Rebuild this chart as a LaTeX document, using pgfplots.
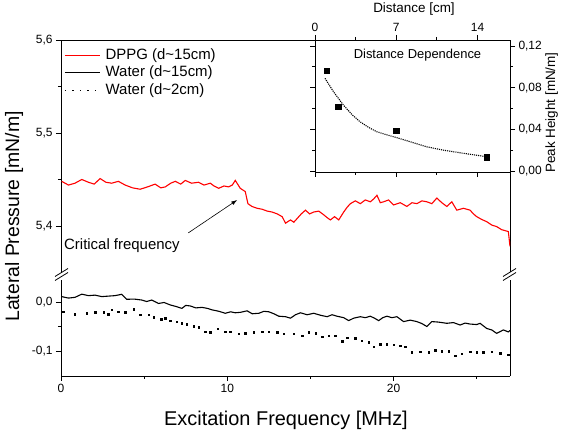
\documentclass[border=0pt]{standalone}
\usepackage{pgfplots}
\pgfplotsset{compat=1.18}
\usepackage{fontspec}
\setmainfont{Liberation Sans}
\usetikzlibrary{arrows.meta}
\pgfplotsset{mystyle/.style={
  scale only axis,
  axis line style={-, line width=0.9pt},
  tick style={line width=0.8pt, black},
  tick align=outside,
  major tick length=5bp,
  minor tick length=3bp,
  ticklabel style={font=\fontsize{12}{12}\selectfont},
  /pgf/number format/assume math mode=true,
}}
\begin{document}
\begin{tikzpicture}
\path[use as bounding box] (0bp,0bp) rectangle (561bp,431bp);

% upper part
\begin{axis}[mystyle, at={(61bp,159bp)}, anchor=south west,
  width=449bp, height=232bp,
  xmin=0, xmax=27, ymin=5.3505, ymax=5.6,
  axis x line*=top, axis y line*=box,
  xtick=\empty,
  ytick={5.4,5.5,5.6}, yticklabels={{5,4},{5,5},{5,6}},
  minor ytick={5.45,5.55}, ytick pos=left,
  legend style={at={(axis description cs:0,1)}, anchor=north west,
    draw=none, fill=none, inner xsep=3bp, inner ysep=8bp,
    font=\fontsize{15}{15}\selectfont, row sep=3bp,
    nodes={inner sep=0pt, text height=11bp, text depth=3.5bp}},
  legend cell align=left,
  legend image code/.code={\draw[#1] (0bp,0bp) -- (35bp,0bp);},
  /tikz/every odd column/.append style={column sep=5bp},
]
\addlegendimage{red, line width=1.1pt}
\addlegendentry{DPPG (d\textasciitilde 15cm)}
\addlegendimage{black, line width=1.1pt}
\addlegendentry{Water (d\textasciitilde 15cm)}
\addlegendimage{black, line width=1.5pt, dash pattern=on 1.5pt off 6pt}
\addlegendentry{Water (d\textasciitilde 2cm)}

\addplot[red, line width=1.1pt, forget plot] coordinates {
(0.04,5.448) (0.45,5.444) (0.84,5.446) (1.25,5.450) (1.65,5.447) (2.0,5.445)
(2.35,5.451) (2.7,5.447) (3.05,5.446) (3.45,5.448) (3.86,5.444) (4.3,5.441)
(4.76,5.4395) (5.2,5.442) (5.66,5.445) (6.0,5.441) (6.27,5.442) (6.6,5.446)
(6.87,5.448) (7.2,5.445) (7.47,5.449) (7.85,5.446) (8.27,5.447) (8.6,5.444)
(8.98,5.446) (9.2,5.443) (9.48,5.4405) (9.8,5.443) (10.08,5.442) (10.3,5.444)
(10.48,5.449) (10.78,5.4405) (11.08,5.437) (11.24,5.424) (11.48,5.421)
(11.8,5.419) (12.09,5.418) (12.4,5.416) (12.69,5.415) (13.0,5.413) (13.3,5.410)
(13.5,5.403) (13.8,5.4065) (14.0,5.404) (14.2,5.408) (14.45,5.413) (14.7,5.417)
(14.95,5.413) (15.2,5.415) (15.5,5.416) (15.8,5.412) (16.0,5.409) (16.2,5.4065)
(16.45,5.410) (16.7,5.4065) (17.0,5.415) (17.2,5.420) (17.4,5.424) (17.7,5.427)
(18.0,5.424) (18.3,5.428) (18.6,5.426) (18.8,5.429) (19.0,5.433) (19.2,5.425)
(19.4,5.426) (19.7,5.428) (20.0,5.4226) (20.4,5.425) (20.8,5.421) (21.1,5.425)
(21.4,5.424) (21.7,5.427) (22.0,5.426) (22.3,5.424) (22.6,5.430) (22.9,5.425)
(23.2,5.421) (23.5,5.426) (23.8,5.417) (24.2,5.419) (24.6,5.417) (24.8,5.413)
(25.0,5.410) (25.3,5.407) (25.6,5.4046) (25.9,5.401) (26.2,5.3993) (26.5,5.396)
(26.9,5.394) (27.0,5.378)
};

\draw[-{Latex[length=6bp,width=4bp]}, line width=0.6pt] (axis cs:7.65,5.3925) -- (axis cs:10.6,5.428);
\node[anchor=base west, inner sep=0pt, font=\fontsize{15}{15}\selectfont] at (axis cs:0.18,5.3742) {Critical frequency};
\end{axis}

% lower part
\begin{axis}[mystyle, at={(61bp,55bp)}, anchor=south west,
  width=449bp, height=96bp,
  xmin=0, xmax=27, ymin=-0.151, ymax=0.0449,
  axis x line*=bottom, axis y line*=box,
  xtick={0,10,20}, minor xtick={5,15,25}, xtick pos=bottom,
  ytick={-0.1,0}, yticklabels={{-0,1},{0,0}},
  minor ytick={-0.05}, ytick pos=left,
]
\addplot[black, line width=1.1pt] coordinates {
(0.04,0.011) (0.45,0.008) (0.84,0.0095) (1.25,0.016) (1.65,0.013) (2.05,0.014)
(2.45,0.011) (2.85,0.012) (3.25,0.013) (3.65,0.0157) (3.95,0.0055) (4.4,0.006)
(4.86,0.004) (5.15,0.001) (5.46,0.004) (5.86,-0.003) (6.2,-0.001) (6.57,-0.006)
(6.9,-0.009) (7.27,-0.013) (7.5,-0.007) (7.77,-0.008) (8.1,-0.012) (8.48,-0.011)
(8.8,-0.013) (9.08,-0.016) (9.5,-0.019) (9.88,-0.023) (10.2,-0.020) (10.48,-0.022)
(10.8,-0.021) (11.19,-0.018) (11.5,-0.024) (11.9,-0.023) (12.2,-0.019) (12.5,-0.020)
(12.8,-0.024) (13.1,-0.029) (13.5,-0.030) (13.8,-0.033) (14.1,-0.026) (14.4,-0.022)
(14.8,-0.026) (15.2,-0.023) (15.6,-0.027) (16.0,-0.030) (16.3,-0.026) (16.6,-0.029)
(17.0,-0.032) (17.3,-0.038) (17.6,-0.033) (18.0,-0.030) (18.3,-0.032) (18.6,-0.029)
(18.85,-0.033) (19.1,-0.038) (19.35,-0.032) (19.6,-0.029) (19.9,-0.032) (20.2,-0.030)
(20.6,-0.040) (21.0,-0.037) (21.4,-0.040) (21.7,-0.044) (22.0,-0.050) (22.3,-0.040)
(22.7,-0.041) (23.2,-0.0435) (23.6,-0.042) (24.0,-0.047) (24.3,-0.043) (24.6,-0.045)
(25.0,-0.046) (25.2,-0.0435) (25.6,-0.054) (25.9,-0.057) (26.2,-0.064) (26.6,-0.057)
(26.9,-0.061) (27.0,-0.058)
};
\addplot[black, only marks, mark=square*, mark size=0.7pt] coordinates {
(0.14,-0.0197) (0.84,-0.0252) (1.55,-0.0231) (2.05,-0.021) (2.55,-0.021)
(2.85,-0.025) (3.05,-0.0163) (3.45,-0.0197) (3.86,-0.021) (4.36,-0.015)
(4.76,-0.0265) (5.26,-0.0265) (5.56,-0.031) (6.02,-0.0354) (6.27,-0.0333)
(6.57,-0.038) (6.97,-0.040) (7.27,-0.0435) (7.57,-0.0456) (7.97,-0.049)
(8.27,-0.0517) (8.67,-0.0605) (8.98,-0.062) (9.44,-0.055) (9.88,-0.0605)
(10.18,-0.0605) (10.68,-0.065) (11.08,-0.064) (11.58,-0.062) (12.09,-0.0605)
(12.49,-0.0605) (12.99,-0.062) (13.39,-0.065) (13.99,-0.065) (14.5,-0.0687)
(14.9,-0.062) (15.3,-0.064) (15.7,-0.0707) (16.1,-0.069) (16.5,-0.0687)
(16.9,-0.0796) (17.2,-0.0728) (17.7,-0.074) (18.1,-0.079) (18.5,-0.0823)
(18.8,-0.091) (19.2,-0.0864) (19.6,-0.0864) (20.0,-0.0877) (20.4,-0.089)
(20.7,-0.091) (21.1,-0.1027) (21.6,-0.101) (22.1,-0.1027) (22.5,-0.098)
(22.9,-0.100) (23.3,-0.100) (23.7,-0.110) (24.1,-0.106) (24.6,-0.101)
(25.0,-0.1027) (25.4,-0.1027) (25.9,-0.101) (26.4,-0.1044) (26.9,-0.1075)
};
\end{axis}

% inset
\begin{axis}[mystyle, at={(315bp,259bp)}, anchor=south west,
  width=195bp, height=132bp,
  xmin=0, xmax=16.8, ymin=-0.00096, ymax=0.1258,
  xtick={0,7,14}, minor xtick={3.5,10.5}, xtick pos=both, xticklabel pos=top,
  ytick={0,0.04,0.08,0.12}, yticklabels={{0,00},{0,04},{0,08},{0,12}},
  minor ytick={0.02,0.06,0.10}, ytick pos=both, yticklabel pos=right,
]
\addplot[black, densely dotted, line width=1.1pt] coordinates {
(0.86,0.089) (1.6,0.076) (2.44,0.0634) (3.2,0.054) (3.88,0.0473) (4.6,0.042)
(5.3,0.0378) (6.1,0.035) (6.9,0.0325) (8.2,0.0281) (9.6,0.0233) (11.06,0.020)
(12.5,0.0175) (13.7,0.0155) (14.8,0.0137)
};
\addplot[black, only marks, mark=square*, mark size=2.6pt] coordinates {
(1,0.096) (2,0.0617) (7,0.0387) (14.8,0.0132)
};
\end{axis}

% break marks
\draw[line width=0.8pt] (55bp,150.5bp) -- (68bp,158.5bp);
\draw[line width=0.8pt] (55bp,154.5bp) -- (68bp,162.5bp);
\draw[line width=0.8pt] (503bp,150.5bp) -- (516bp,158.5bp);
\draw[line width=0.8pt] (503bp,154.5bp) -- (516bp,162.5bp);

% labels
\node[rotate=90, anchor=base, inner sep=0pt, font=\fontsize{19.5}{19.5}\selectfont] at (19bp,214.5bp) {Lateral Pressure [mN/m]};
\node[anchor=base, inner sep=0pt, font=\fontsize{20}{20}\selectfont] at (286bp,6bp) {Excitation Frequency [MHz]};
\node[anchor=base, inner sep=0pt, font=\fontsize{13.5}{13.5}\selectfont] at (414bp,418bp) {Distance [cm]};
\node[rotate=90, anchor=base, inner sep=0pt, font=\fontsize{13.5}{13.5}\selectfont] at (555bp,318.5bp) {Peak Height [mN/m]};
\node[anchor=base, inner sep=0pt, font=\fontsize{13}{13}\selectfont] at (417.5bp,372bp) {Distance Dependence};
\end{tikzpicture}
\end{document}
